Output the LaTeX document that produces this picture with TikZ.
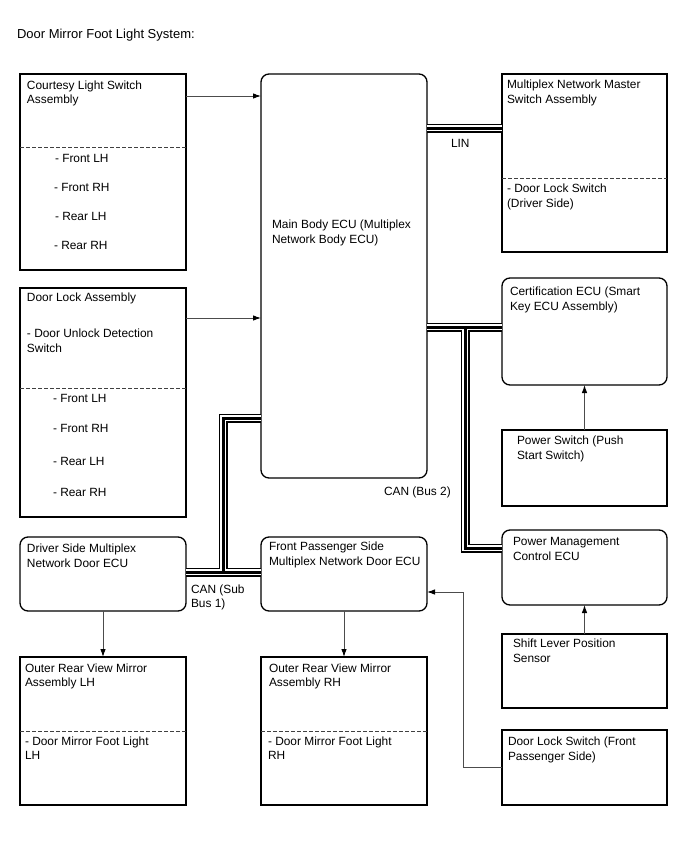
\documentclass[tikz,border=0pt]{standalone}
\usepackage{fontspec}
\setmainfont{Liberation Sans}
\usetikzlibrary{arrows.meta}
\newcommand\mkbox[6]{\node[#2,minimum width=#5-#3,minimum height=#6-#4] (#1) at (#3,#4) {};}
\newcommand\txtline[4]{\node[txt] (#1) at (#2,#3) {#4};}
\begin{document}
\begin{tikzpicture}[x=1pt,y=-1pt,
 box/.style={draw=black,line width=1.3pt,inner sep=0pt,outer sep=0pt,anchor=north west},
 rbox/.style={box,rounded corners=8pt},
 txt/.style={anchor=base west,inner sep=0pt,outer sep=0pt,font=\fontsize{11.9}{14}\selectfont},
 sep/.style={draw=black!75,line width=0.8pt,dash pattern=on 3.5pt off 2.5pt},
 arr/.style={draw=black!70,line width=0.9pt,-{Latex[length=8pt,width=5.5pt,color=black]}},
]
\useasboundingbox (0,0) rectangle (688,852);
% boxes
\mkbox{cls}{box}{20}{74}{186}{270}
\mkbox{dla}{box}{20}{288}{186}{517}
\mkbox{main}{rbox}{261}{74}{427}{478}
\mkbox{mnm}{box}{502}{74}{667}{252}
\mkbox{cert}{rbox}{502}{278}{667}{385}
\mkbox{psw}{box}{502}{430}{667}{506}
\mkbox{pmc}{rbox}{502}{530}{667}{605}
\mkbox{slp}{box}{502}{634}{667}{708}
\mkbox{dls}{box}{502}{730}{667}{805}
\mkbox{drv}{rbox}{20}{537}{186}{611}
\mkbox{fps}{rbox}{261}{537}{427}{611}
\mkbox{orl}{box}{20}{657}{186}{805}
\mkbox{orr}{box}{261}{657}{427}{805}
% separators
\draw[sep] (cls.west |- 0,147) -- (cls.east |- 0,147);
\draw[sep] (dla.west |- 0,388) -- (dla.east |- 0,388);
\draw[sep] (mnm.west |- 0,178) -- (mnm.east |- 0,178);
\draw[sep] (orl.west |- 0,731) -- (orl.east |- 0,731);
\draw[sep] (orr.west |- 0,731) -- (orr.east |- 0,731);
% texts
\node[txt,font=\fontsize{13}{15}\selectfont] (title) at (17,38) {Door Mirror Foot Light System:};
\txtline{clsA}{27}{89}{Courtesy Light Switch}
\txtline{clsB}{27}{103}{Assembly}
\txtline{clsC}{55}{162}{- Front LH}
\txtline{clsD}{54}{191}{- Front RH}
\txtline{clsE}{55}{220}{- Rear LH}
\txtline{clsF}{54}{249}{- Rear RH}
\txtline{dlaA}{27}{301}{Door Lock Assembly}
\txtline{dlaB}{27}{337}{- Door Unlock Detection}
\txtline{dlaC}{27}{352}{Switch}
\txtline{dlaD}{53}{402}{- Front LH}
\txtline{dlaE}{53}{432}{- Front RH}
\txtline{dlaF}{53}{465}{- Rear LH}
\txtline{dlaG}{53}{496}{- Rear RH}
\txtline{mainA}{272}{228}{Main Body ECU (Multiplex}
\txtline{mainB}{272}{243}{Network Body ECU)}
\txtline{mnmA}{507}{88}{Multiplex Network Master}
\txtline{mnmB}{507}{103}{Switch Assembly}
\txtline{mnmC}{507}{192}{- Door Lock Switch}
\txtline{mnmD}{507}{207}{(Driver Side)}
\txtline{certA}{510}{295}{Certification ECU (Smart}
\txtline{certB}{510}{310}{Key ECU Assembly)}
\txtline{pswA}{517}{444}{Power Switch (Push}
\txtline{pswB}{517}{459}{Start Switch)}
\txtline{pmcA}{513}{545}{Power Management}
\txtline{pmcB}{513}{560}{Control ECU}
\txtline{slpA}{513}{647}{Shift Lever Position}
\txtline{slpB}{513}{662}{Sensor}
\txtline{dlsA}{508}{745}{Door Lock Switch (Front}
\txtline{dlsB}{508}{760}{Passenger Side)}
\txtline{drvA}{27}{552}{Driver Side Multiplex}
\txtline{drvB}{27}{567}{Network Door ECU}
\txtline{fpsA}{269}{550}{Front Passenger Side}
\txtline{fpsB}{269}{565}{Multiplex Network Door ECU}
\txtline{orlA}{25}{672}{Outer Rear View Mirror}
\txtline{orlB}{25}{686}{Assembly LH}
\txtline{orlC}{25}{745}{- Door Mirror Foot Light}
\txtline{orlD}{25}{759}{LH}
\txtline{orrA}{269}{672}{Outer Rear View Mirror}
\txtline{orrB}{269}{686}{Assembly RH}
\txtline{orrC}{268}{745}{- Door Mirror Foot Light}
\txtline{orrD}{268}{759}{RH}
\txtline{lin}{451}{147}{LIN}
\txtline{canb}{384}{495}{CAN (Bus 2)}
\txtline{cansA}{191}{593}{CAN (Sub}
\txtline{cansB}{191}{607}{Bus 1)}
% buses
\coordinate (jr) at (465,327);
\coordinate (jrb) at (465,548);
\coordinate (jl) at (223,418);
\coordinate (jlb) at (223,572);
\foreach \w/\c in {9/black,5.5/white,3/black}{
  \draw[line width=\w pt,\c] (main.east |- 0,128) -- (mnm.west |- 0,128);
  \draw[line width=\w pt,\c] (main.east |- jr) -- (cert.west |- jr);
  \draw[line width=\w pt,\c] (jr) -- (jrb) -- (pmc.west |- jrb);
  \draw[line width=\w pt,\c] (main.west |- jl) -- (jl) -- (jlb);
  \draw[line width=\w pt,\c] (drv.east |- jlb) -- (fps.west |- jlb);
}
% arrows
\draw[arr] (cls.east |- 0,96) -- (main.west |- 0,96);
\draw[arr] (dla.east |- 0,318) -- (main.west |- 0,318);
\draw[arr] (psw.north) -- (cert.south);
\draw[arr] (slp.north) -- (pmc.south);
\draw[arr] (drv.south) -- (orl.north);
\draw[arr] (fps.south) -- (orr.north);
\coordinate (dk1) at (463,767);
\coordinate (dk2) at (463,592);
\draw[arr] (dls.west |- dk1) -- (dk1) -- (dk2) -- (fps.east |- dk2);
\end{tikzpicture}
\end{document}
